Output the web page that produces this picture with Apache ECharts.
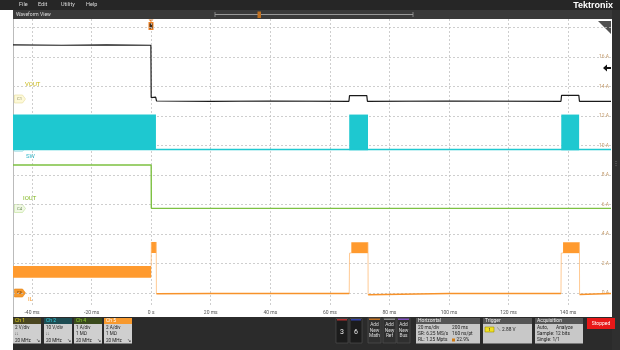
<!DOCTYPE html>
<html>
<head>
<meta charset="utf-8">
<script src="https://cdn.jsdelivr.net/npm/echarts@6/dist/echarts.min.js"></script>
<style>
  html, body { margin: 0; padding: 0; background: #fff; }
  #chart { width: 620px; height: 350px; }
</style>
</head>
<body>
<div id="chart"></div>
<script>
// time axis in ms, vertical axis in the Ch5 display units (A)
const timeTicks = [-40, -20, 0, 20, 40, 60, 80, 100, 120, 140];
const gridLevels = [0, 2, 4, 6, 8, 10, 12, 14, 16, 18];
const levelTicks = [0, 2, 4, 6, 8, 10, 12, 14, 16];

// Ch1 VOUT
const voutTrace = [
  [-46.4, 16.82], [-30, 16.8], [-15, 16.83], [-0.1, 16.8], [0, 13.25],
  [1.5, 13.28], [1.8, 13.02], [20, 13.0], [40, 13.02], [66.4, 13.0],
  [66.6, 13.38], [72.4, 13.38], [72.6, 13.0], [100, 13.02], [137.6, 13.0],
  [137.8, 13.4], [143.6, 13.4], [143.8, 13.0], [154.4, 13.0]
];

// Ch2 SW: flat level plus switching bursts [start, end, low, high]
const swTrace = [[1.6, 9.73], [60, 9.73], [154.4, 9.73]];
const swBursts = [
  [-46.4, 1.6, 9.68, 12.1],
  [66.5, 72.8, 9.68, 12.1],
  [137.7, 143.7, 9.68, 12.1]
];

// Ch4 IOUT
const ioutTrace = [[-46.4, 8.68], [0, 8.68], [0.05, 5.74], [154.4, 5.74]];

// Ch5 IL: settled level (null = gap), faint edges, and dense bursts
const ilLevel = [
  [1.75, -0.05], [20, -0.03], [45, -0.04], [66.5, -0.03], null,
  [72.85, -0.12], [73.5, -0.04], [100, -0.03], [137.6, -0.03], null,
  [143.85, -0.1], [144.5, -0.04], [154.4, -0.04]
];
const ilEdges = [
  [0, 1.83], [0.05, 3.46], null, [1.7, 3.46], [1.75, -0.05], null,
  [66.5, -0.03], [66.6, 2.7], [67.2, 2.72], null, [72.8, 3.44], [72.85, -0.12], null,
  [137.6, -0.03], [137.7, 2.7], [138.3, 2.72], null, [143.8, 3.44], [143.85, -0.1]
];
const ilBursts = [
  [-46.4, 0, 1.04, 1.83],
  [0, 1.7, 2.71, 3.46],
  [67.2, 72.8, 2.7, 3.44],
  [138.3, 143.8, 2.7, 3.44]
];

const chart = echarts.init(document.getElementById('chart'));
const uiFont = 'Roboto';

function renderBand(params, api) {
  const p0 = api.coord([api.value(0), api.value(3)]);
  const p1 = api.coord([api.value(1), api.value(2)]);
  return {
    type: 'rect',
    shape: { x: p0[0], y: p0[1], width: p1[0] - p0[0], height: p1[1] - p0[1] },
    style: { fill: api.visual('color') }
  };
}

function txt(x, y, s, color, size, extra) {
  return Object.assign({
    type: 'text', x: x, y: y, silent: true,
    style: { text: s, fill: color, fontSize: size || 5, fontFamily: uiFont, verticalAlign: 'middle' }
  }, extra || {});
}
function box(x, y, w, h, fill, stroke) {
  return { type: 'rect', silent: true, shape: { x: x, y: y, width: w, height: h },
    style: { fill: fill, stroke: stroke || null, lineWidth: stroke ? 0.6 : 0 } };
}

function chBadge(x, title, headFill, titleColor, lines) {
  const g = [box(x, 318, 28, 6, headFill), box(x, 324, 28, 19.5, '#cfcfcf'),
    txt(x + 2, 321, title, titleColor, 5)];
  lines.forEach((l, i) => g.push(txt(x + 2, 328 + i * 6.2, l, '#222', 4.6)));
  g.push(txt(x + 23, 340.5, '↘', '#333', 4.6));
  return g;
}

function panel(x, w, title) {
  return [box(x, 318, w, 6, '#555'), box(x, 324, w, 19.5, '#c8c8c8'),
    txt(x + 2, 321, title, '#eee', 5)];
}

function addBtn(x, stripe, word) {
  return [box(x, 318, 13, 25, '#2f2f2f', '#555'), box(x + 1, 318.5, 11, 1.5, stripe),
    txt(x + 6.5, 325, 'Add', '#ddd', 4.8, { style: { text: 'Add\nNew\n' + word, fill: '#ddd', fontSize: 4.8,
      fontFamily: uiFont, align: 'center', verticalAlign: 'top', lineHeight: 5.6 }, y: 322 })];
}

const graphics = [
  // menu bar
  box(0, 0, 620, 10, '#262626'),
  txt(19, 5, 'File', '#ddd', 5.5), txt(38, 5, 'Edit', '#ddd', 5.5),
  txt(61, 5, 'Utility', '#ddd', 5.5), txt(86, 5, 'Help', '#ddd', 5.5),
  txt(613, 6, 'Tektronix', '#fff', 9, { style: { text: 'Tektronix', fill: '#fff', fontSize: 9,
    fontWeight: 'bold', fontFamily: 'Liberation Sans', align: 'right', verticalAlign: 'middle' } }),
  // waveform view bar
  box(13, 10, 599, 9, '#3a3a3a'),
  txt(16, 14.5, 'Waveform View', '#ddd', 5),
  { type: 'line', silent: true, shape: { x1: 215, y1: 14.5, x2: 413, y2: 14.5 }, style: { stroke: '#999', lineWidth: 1.2 } },
  { type: 'line', silent: true, shape: { x1: 215, y1: 12, x2: 215, y2: 17 }, style: { stroke: '#999', lineWidth: 0.8 } },
  { type: 'line', silent: true, shape: { x1: 413, y1: 12, x2: 413, y2: 17 }, style: { stroke: '#999', lineWidth: 0.8 } },
  box(257.5, 11.5, 3.5, 6.5, '#c07020'),
  // right strip
  box(612, 10, 8, 340, '#2f2f2f'),
  txt(615.5, 163, '⋮', '#999', 6, { style: { text: '⋮', fill: '#888', fontSize: 6, align: 'center', verticalAlign: 'middle' } }),
  // plot left border
  { type: 'line', silent: true, shape: { x1: 13.5, y1: 19, x2: 13.5, y2: 317 }, style: { stroke: '#aaa', lineWidth: 0.8 } },
  // trigger marker
  { type: 'polygon', silent: true, shape: { points: [[148.5, 19.5], [153.5, 19.5], [151, 22]] }, style: { fill: '#f08020' } },
  box(148.5, 22, 5, 8, '#f08020'),
  box(149.6, 23.5, 2.8, 5, '#3a2a1a'),
  // corner icon and level arrow
  { type: 'polygon', silent: true, shape: { points: [[598, 21], [611, 21], [611, 34]] }, style: { fill: '#505050' } },
  { type: 'polygon', silent: true, shape: { points: [[603, 68], [607, 64.5], [607, 67], [611, 67], [611, 69], [607, 69], [607, 71.5]] }, style: { fill: '#111' } },
  // channel markers and names
  { type: 'polygon', silent: true, shape: { points: [[14.5, 95], [22.5, 95], [25.5, 99], [22.5, 103], [14.5, 103]] }, style: { fill: '#fdf9d8', stroke: '#e6dc9a', lineWidth: 0.6 } },
  txt(17, 99, 'C1', '#8a8a6a', 4.2),
  txt(25, 84, 'VOUT', '#c8b814', 6),
  { type: 'polygon', silent: true, shape: { points: [[14.5, 143.5], [22.5, 143.5], [25.5, 147.5], [22.5, 151.5], [14.5, 151.5]] }, style: { fill: '#e6f8fa', stroke: '#9edce4', lineWidth: 0.6 } },
  txt(17, 147.5, 'C2', '#5a8a90', 4.2),
  txt(26, 156, 'SW', '#2eb4c6', 6),
  { type: 'polygon', silent: true, shape: { points: [[14.5, 204.5], [22.5, 204.5], [25.5, 208.5], [22.5, 212.5], [14.5, 212.5]] }, style: { fill: '#f0f8e4', stroke: '#bde096', lineWidth: 0.6 } },
  txt(17, 208.5, 'C4', '#6a8a5a', 4.2),
  txt(23, 198, 'IOUT', '#82b820', 6),
  { type: 'polygon', silent: true, shape: { points: [[14.5, 289], [22.5, 289], [25.5, 293], [22.5, 297], [14.5, 297]] }, style: { fill: '#f79a2e', stroke: '#e08010', lineWidth: 0.6 } },
  txt(17, 293, 'C5', '#5a2a00', 4.2),
  txt(28, 299.5, 'IL', '#f79a2e', 6),
  // bottom panel
  box(13, 317, 599, 33, '#2b2b2b')
];

graphics.push(...chBadge(13, 'Ch 1', '#4a4620', '#e8d820', ['2 V/div', '⎍', '20 MHz']));
graphics.push(...chBadge(44, 'Ch 2', '#1d4c52', '#34d0e0', ['10 V/div', '⎍', '20 MHz']));
graphics.push(...chBadge(74, 'Ch 4', '#3a4a1c', '#8ccf30', ['1 A/div', '1 MΩ', '20 MHz']));
graphics.push(...chBadge(104, 'Ch 5', '#f7992e', '#fff', ['2 A/div', '1 MΩ', '20 MHz']));

graphics.push(
  box(336, 318.5, 12, 24.5, '#1c1c1c', '#555'), box(337, 319, 10, 1.5, '#b03030'),
  txt(342, 332, '3', '#eee', 7, { style: { text: '3', fill: '#eee', fontSize: 7, align: 'center', verticalAlign: 'middle', fontFamily: uiFont } }),
  box(350, 318.5, 12, 24.5, '#1c1c1c', '#555'), box(351, 319, 10, 1.5, '#3040a8'),
  txt(356, 332, '6', '#eee', 7, { style: { text: '6', fill: '#eee', fontSize: 7, align: 'center', verticalAlign: 'middle', fontFamily: uiFont } })
);
graphics.push(...addBtn(368, '#c07020', 'Math'));
graphics.push(...addBtn(383, '#888888', 'Ref'));
graphics.push(...addBtn(397, '#8050c0', 'Bus'));

graphics.push(...panel(416, 64, 'Horizontal'));
graphics.push(
  txt(418, 328, '20 ms/div', '#222', 4.8), txt(452, 328, '200 ms', '#222', 4.8),
  txt(418, 334, 'SR: 6.25 MS/s', '#222', 4.8), txt(452, 334, '160 ns/pt', '#222', 4.8),
  txt(418, 340, 'RL: 1.25 Mpts', '#222', 4.8), box(452, 338.5, 3, 3, '#d07a10'), txt(456.5, 340, '22.9%', '#222', 4.8)
);
graphics.push(...panel(483, 49, 'Trigger'));
graphics.push(
  box(485, 327, 9, 5, '#f0e020', '#a09000'), txt(488.5, 329.6, '1', '#222', 4.2),
  txt(497, 329.5, '⟍', '#333', 5), txt(502, 329.5, '2.88 V', '#222', 4.8)
);
graphics.push(...panel(535, 48, 'Acquisition'));
graphics.push(
  txt(537, 328, 'Auto,', '#222', 4.8), txt(556, 328, 'Analyze', '#222', 4.8),
  txt(537, 334, 'Sample: 12 bits', '#222', 4.8),
  txt(537, 340, 'Single: 1/1', '#222', 4.8),
  box(587, 318, 28, 11, '#e81818'),
  txt(601, 323.5, 'Stopped', '#fff', 5, { style: { text: 'Stopped', fill: '#fff', fontSize: 5, align: 'center', verticalAlign: 'middle', fontFamily: uiFont } })
);

const option = {
  animation: false,
  backgroundColor: '#fff',
  grid: { left: 13, right: 9, top: 19, bottom: 43 },
  xAxis: {
    type: 'value', min: -46.4, max: 154.4,
    axisLine: { show: false },
    axisTick: { show: false, customValues: timeTicks },
    axisLabel: {
      customValues: timeTicks, fontSize: 5, color: '#555', margin: 3, fontFamily: uiFont,
      formatter: v => (v === 0 ? '0 s' : v + ' ms')
    },
    splitLine: { show: true, lineStyle: { color: '#c2c2c2', width: 0.8, type: [2, 2] } }
  },
  yAxis: {
    type: 'value', position: 'right', min: -0.95, max: 18.58,
    axisLine: { show: false },
    axisTick: { show: false, customValues: gridLevels },
    axisLabel: {
      inside: true, customValues: levelTicks, fontSize: 5, color: '#c39a6a', margin: 2,
      fontFamily: uiFont, formatter: '{value} A'
    },
    splitLine: { show: true, lineStyle: { color: '#c2c2c2', width: 0.8, type: [2, 2] } }
  },
  graphic: { elements: graphics },
  series: [
    { type: 'custom', name: 'SW bursts', data: swBursts, renderItem: renderBand,
      encode: { x: [0, 1], y: [2, 3] }, itemStyle: { color: '#1ec8d0' }, silent: true },
    { type: 'line', name: 'SW', data: swTrace, showSymbol: false, silent: true,
      lineStyle: { color: '#1ec8d0', width: 1.6 } },
    { type: 'line', name: 'IOUT', data: ioutTrace, showSymbol: false, silent: true,
      lineStyle: { color: '#7dc142', width: 1.4 } },
    { type: 'custom', name: 'IL bursts', data: ilBursts, renderItem: renderBand,
      encode: { x: [0, 1], y: [2, 3] }, itemStyle: { color: '#ff9a2e' }, silent: true },
    { type: 'line', name: 'IL edges', data: ilEdges, showSymbol: false, silent: true,
      connectNulls: false, lineStyle: { color: '#ffb870', width: 1, opacity: 0.75 } },
    { type: 'line', name: 'IL', data: ilLevel, showSymbol: false, silent: true,
      connectNulls: false, lineStyle: { color: '#f7922a', width: 1.5 } },
    { type: 'line', name: 'VOUT', data: voutTrace, showSymbol: false, silent: true,
      lineStyle: { color: '#1a1a1a', width: 1.2 } }
  ]
};

chart.setOption(option);
</script>
</body>
</html>
